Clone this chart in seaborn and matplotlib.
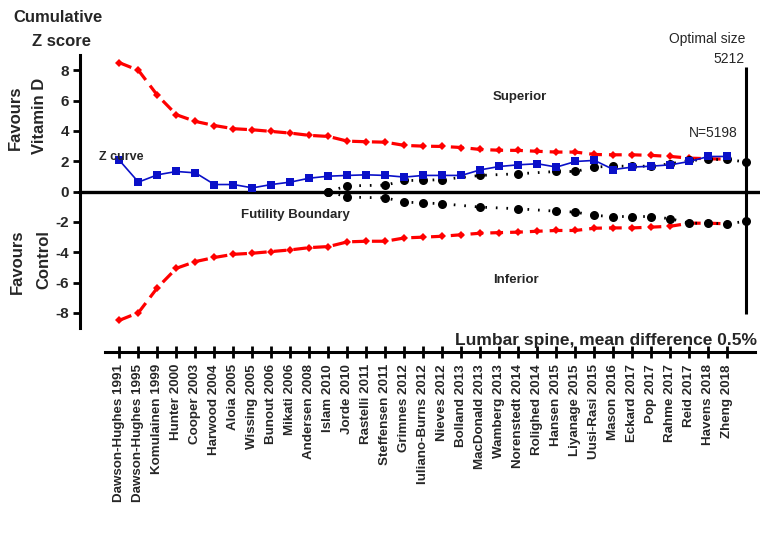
import matplotlib
matplotlib.use("Agg")
import matplotlib.pyplot as plt
import seaborn as sns

# studies in order of publication (x axis)
studies = ["Dawson-Hughes 1991", "Dawson-Hughes 1995", "Komulainen 1999", "Hunter 2000",
           "Cooper 2003", "Harwood 2004", "Aloia 2005", "Wissing 2005", "Bunout 2006",
           "Mikati 2006", "Andersen 2008", "Islam 2010", "Jorde 2010", "Rastelli 2011",
           "Steffensen 2011", "Grimnes 2012", "Iuliano-Burns 2012", "Nieves 2012",
           "Bolland 2013", "MacDonald 2013", "Wamberg 2013", "Norenstedt 2014",
           "Rolighed 2014", "Hansen 2015", "Liyanage 2015", "Uusi-Rasi 2015", "Mason 2016",
           "Eckard 2017", "Pop 2017", "Rahme 2017", "Reid 2017", "Havens 2018", "Zheng 2018"]

z_curve = [2.05, 0.62, 1.10, 1.32, 1.23, 0.46, 0.46, 0.24, 0.46, 0.62, 0.88, 1.01, 1.06,
           1.10, 1.06, 0.95, 1.06, 1.06, 1.06, 1.43, 1.65, 1.76, 1.83, 1.61, 1.98, 2.05,
           1.45, 1.61, 1.67, 1.76, 1.98, 2.31, 2.31]

upper_bound = [8.49, 7.99, 6.34, 5.06, 4.62, 4.35, 4.14, 4.07, 3.96, 3.85, 3.70, 3.63, 3.32,
               3.28, 3.25, 3.04, 2.99, 2.97, 2.90, 2.77, 2.72, 2.71, 2.65, 2.60, 2.60, 2.44,
               2.42, 2.42, 2.38, 2.31, 2.20, 2.16, 2.13]
lower_bound = [-8.49, -7.99, -6.34, -5.06, -4.62, -4.35, -4.14, -4.07, -3.96, -3.85, -3.70,
               -3.63, -3.32, -3.28, -3.28, -3.06, -3.01, -2.95, -2.85, -2.75, -2.71, -2.68,
               -2.62, -2.57, -2.57, -2.42, -2.40, -2.40, -2.35, -2.29, -2.09, -2.09, -2.13]

futility_pos = [11, 12, 14, 15, 16, 17, 19, 21, 23, 24, 25, 26, 27, 28, 29, 30, 31, 32, 33]
futility_upper = [0.0, 0.37, 0.42, 0.73, 0.73, 0.79, 1.06, 1.17, 1.32, 1.32, 1.61, 1.67,
                  1.67, 1.67, 1.83, 2.05, 2.11, 2.11, 1.94]
futility_lower = [0.0, -0.37, -0.42, -0.70, -0.75, -0.81, -1.03, -1.14, -1.30, -1.36, -1.58,
                  -1.65, -1.65, -1.65, -1.80, -2.09, -2.09, -2.13, -1.96]

optimal_pos = 33
y_ticks = [-8, -6, -4, -2, 0, 2, 4, 6, 8]

sns.set_style("white")
plt.rcParams['font.family'] = ['Liberation Sans', 'DejaVu Sans']
plt.rcParams['axes.unicode_minus'] = False

W, H = 760, 538
fig = plt.figure(figsize=(W / 100, H / 100), dpi=100)
ax = fig.add_axes([105 / W, 1 - 328 / H, 650 / W, 273 / H])

pos = list(range(len(studies)))

# monitoring boundaries
for bound in (upper_bound, lower_bound):
    sns.lineplot(x=pos, y=bound, ax=ax, color='#ff0000', lw=2.3, dashes=False,
                 linestyle=(0, (4, 2.2)), marker='D', markersize=4.5, markeredgewidth=0)

# futility boundary
for fut in (futility_upper, futility_lower):
    sns.lineplot(x=futility_pos, y=fut, ax=ax, color='black', lw=2.0,
                 linestyle=(0, (0.6, 3.2)), marker='o', markersize=6.5, markeredgewidth=0)

# cumulative z curve
sns.lineplot(x=pos, y=z_curve, ax=ax, color='#0a10c8', lw=1.2, marker='s',
             markersize=5.5, markeredgewidth=0)

ax.plot([-0.04, 1.008], [0, 0], transform=ax.get_yaxis_transform(), color='black',
        lw=2.4, clip_on=False, zorder=1)
ax.vlines(optimal_pos, -8.05, 8.2, color='black', lw=2.2)

# spines first (set_position resets the tick objects)
for s in ['top', 'right']:
    ax.spines[s].set_visible(False)
ax.spines['left'].set_position(('outward', 18))
ax.spines['bottom'].set_position(('outward', 17.5))
for s in ['left', 'bottom']:
    ax.spines[s].set_linewidth(2.2)
    ax.spines[s].set_color('black')

ax.set_xlim(-0.76, 33.45)
ax.set_ylim(-9, 9)
ax.set_yticks(y_ticks)
ax.set_yticklabels([str(t) for t in y_ticks], fontsize=11, fontweight='bold')
ax.set_xticks(pos)
ax.set_xticklabels(studies, rotation=90, fontsize=9.6, fontweight='bold')
ax.tick_params(axis='y', direction='out', length=5, width=2, color='black', pad=3,
               left=True)
ax.tick_params(axis='x', direction='inout', length=9, width=2, color='black', pad=4,
               bottom=True)
ax.set_xlabel('')
ax.set_ylabel('')


def ftext(x, y, s, **kw):
    fig.text(x / W, 1 - y / H, s, **kw)


ftext(13, 18, "Cumulative", fontsize=12, fontweight='bold', va='center', ha='left')
ftext(32, 42, "Z score", fontsize=12, fontweight='bold', va='center', ha='left')
ftext(15, 118, "Favours", fontsize=12, fontweight='bold', rotation=90, va='center', ha='center')
ftext(40, 116, "Vitamin D", fontsize=12, fontweight='bold', rotation=90, va='center', ha='center')
ftext(17, 262, "Favours", fontsize=12, fontweight='bold', rotation=90, va='center', ha='center')
ftext(44, 260, "Control", fontsize=12, fontweight='bold', rotation=90, va='center', ha='center')

ftext(99, 157, "Z curve", fontsize=9, fontweight='bold', va='center', ha='left')
ftext(493, 97, "Superior", fontsize=9.5, fontweight='bold', va='center', ha='left')
ftext(241, 215, "Futility Boundary", fontsize=9.5, fontweight='bold', va='center', ha='left')
ftext(493, 280, "Inferior", fontsize=9.5, fontweight='bold', va='center', ha='left')
ftext(738, 133, "N=5198", fontsize=10, va='center', ha='right')
ftext(745, 39, "Optimal size", fontsize=10, va='center', ha='right')
ftext(745, 59, "5212", fontsize=10, va='center', ha='right')
ftext(757, 340, "Lumbar spine, mean difference 0.5%", fontsize=12.5, fontweight='bold',
      va='center', ha='right')

fig.savefig("out.png", dpi=100)
